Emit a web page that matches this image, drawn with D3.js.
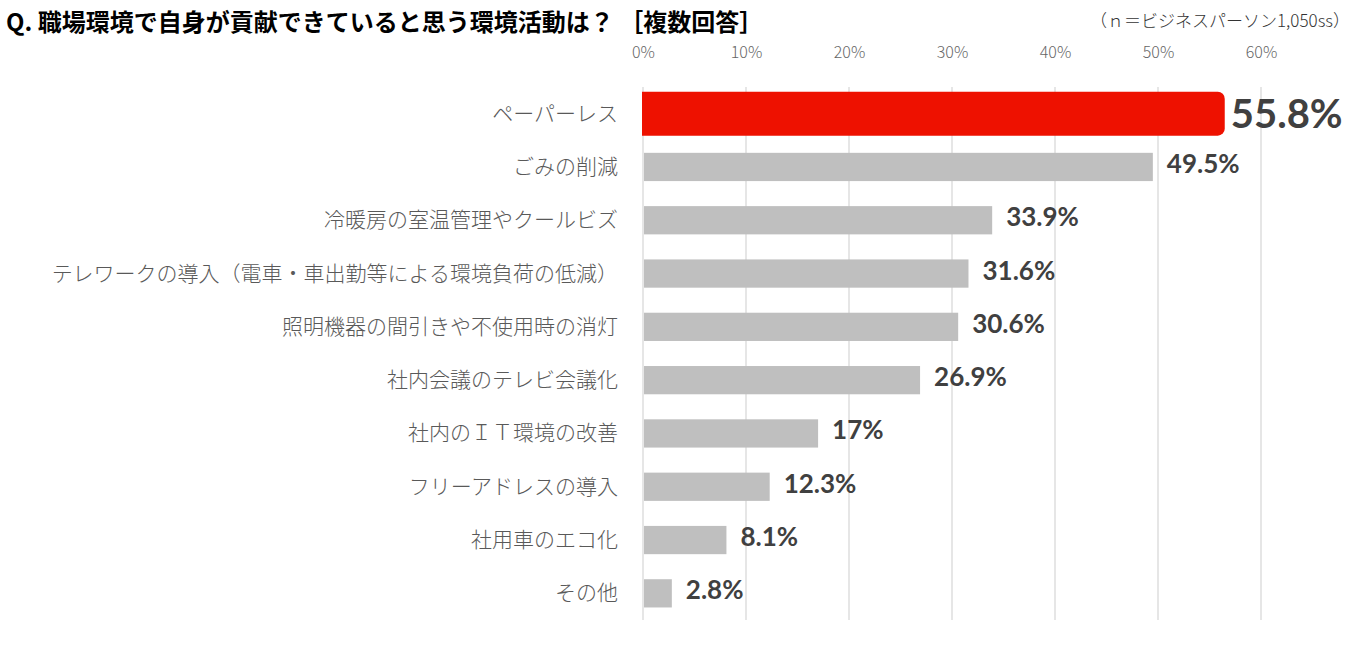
<!DOCTYPE html>
<html>
<head>
<meta charset="utf-8">
<script src="https://cdn.jsdelivr.net/npm/d3@7"></script>
<style>
  body { margin: 0; background: #fff; }
  svg { display: block; }
</style>
</head>
<body>
<div id="plot"></div>
<script>
var width = 1359;
var height = 648;

var title = 'Q. 職場環境で自身が貢献できていると思う環境活動は？ ［複数回答］';
var note = '（ｎ＝ビジネスパーソン1,050ss）';

var categories = [
    'ペーパーレス',
    'ごみの削減',
    '冷暖房の室温管理やクールビズ',
    'テレワークの導入（電車・車出勤等による環境負荷の低減）',
    '照明機器の間引きや不使用時の消灯',
    '社内会議のテレビ会議化',
    '社内のＩＴ環境の改善',
    'フリーアドレスの導入',
    '社用車のエコ化',
    'その他'
];
var values = [55.8, 49.5, 33.9, 31.6, 30.6, 26.9, 17, 12.3, 8.1, 2.8];
var ticks = [0, 10, 20, 30, 40, 50, 60];

var jp = '"Noto Sans CJK JP", "Noto Sans", sans-serif';
var num = 'Lato, "Noto Sans", sans-serif';

var canvas = d3.select('#plot')
    .append('svg')
    .attr('width', width)
    .attr('height', height);

var x_scale = d3.scaleLinear()
    .domain([0, 60])
    .range([643, 1261]);

var y_scale = d3.scaleBand()
    .domain(categories)
    .range([87, 620])
    .paddingInner(0.47)
    .paddingOuter(0.235);

// title + note
canvas.append('text')
    .attr('x', 6)
    .attr('y', 31)
    .attr('font-family', jp)
    .attr('font-weight', 700)
    .attr('font-size', 24)
    .attr('fill', '#000')
    .text(title);

canvas.append('text')
    .attr('x', 1350)
    .attr('y', 27)
    .attr('text-anchor', 'end')
    .attr('font-family', jp)
    .attr('font-weight', 300)
    .attr('font-size', 17)
    .attr('fill', '#333')
    .text(note);

// grid
canvas.selectAll('line.grid')
    .data(ticks)
    .enter()
    .append('line')
    .attr('class', 'grid')
    .attr('x1', function(d) { return x_scale(d); })
    .attr('x2', function(d) { return x_scale(d); })
    .attr('y1', 87)
    .attr('y2', 620)
    .attr('stroke', '#e6e6e6')
    .attr('stroke-width', 2);

// top axis labels
var x_axis = d3.axisTop()
    .scale(x_scale)
    .tickValues(ticks)
    .tickSize(0)
    .tickPadding(0)
    .tickFormat(function(d) { return d + '%'; });

var ax = canvas.append('g')
    .attr('class', 'x-axis')
    .attr('transform', 'translate(0,58)')
    .call(x_axis);
ax.select('.domain').remove();
ax.selectAll('text')
    .attr('font-family', jp)
    .attr('font-weight', 300)
    .attr('font-size', 16)
    .attr('fill', '#666');

// category labels
canvas.selectAll('text.cat')
    .data(categories)
    .enter()
    .append('text')
    .attr('class', 'cat')
    .attr('x', 618)
    .attr('y', function(d) { return y_scale(d) + y_scale.bandwidth() / 2 + 7; })
    .attr('text-anchor', 'end')
    .attr('font-family', jp)
    .attr('font-weight', 300)
    .attr('font-size', 21)
    .attr('fill', '#595959')
    .text(function(d) { return d; });

// gray bars
var rows = categories.map(function(c, i) { return { cat: c, value: values[i], i: i }; });

canvas.selectAll('rect.bar')
    .data(rows.slice(1))
    .enter()
    .append('rect')
    .attr('class', 'bar')
    .attr('x', x_scale(0) + 1)
    .attr('y', function(d) { return y_scale(d.cat); })
    .attr('width', function(d) { return x_scale(d.value) - x_scale(0) - 1; })
    .attr('height', y_scale.bandwidth())
    .attr('fill', '#bfbfbf');

// highlighted bar (thicker, rounded right end)
var first = rows[0];
var hx0 = x_scale(0) - 1;
var hx1 = x_scale(first.value) + 7;
var hc = y_scale(first.cat) + y_scale.bandwidth() / 2;
var hh = 44, r = 7;
var p = d3.path();
p.moveTo(hx0, hc - hh / 2);
p.lineTo(hx1 - r, hc - hh / 2);
p.arcTo(hx1, hc - hh / 2, hx1, hc - hh / 2 + r, r);
p.lineTo(hx1, hc + hh / 2 - r);
p.arcTo(hx1, hc + hh / 2, hx1 - r, hc + hh / 2, r);
p.lineTo(hx0, hc + hh / 2);
p.closePath();
canvas.append('path')
    .attr('d', p.toString())
    .attr('fill', '#ee1100');

// value labels
canvas.selectAll('text.val')
    .data(rows)
    .enter()
    .append('text')
    .attr('class', 'val')
    .attr('x', function(d) { return d.i == 0 ? hx1 + 6 : x_scale(d.value) + 14; })
    .attr('y', function(d) { return y_scale(d.cat) + y_scale.bandwidth() / 2 + (d.i == 0 ? 14 : 6); })
    .attr('font-family', num)
    .attr('font-weight', 700)
    .attr('font-size', function(d) { return d.i == 0 ? 40 : 26; })
    .attr('fill', '#404040')
    .text(function(d) { return d.value + '%'; });
</script>
</body>
</html>
